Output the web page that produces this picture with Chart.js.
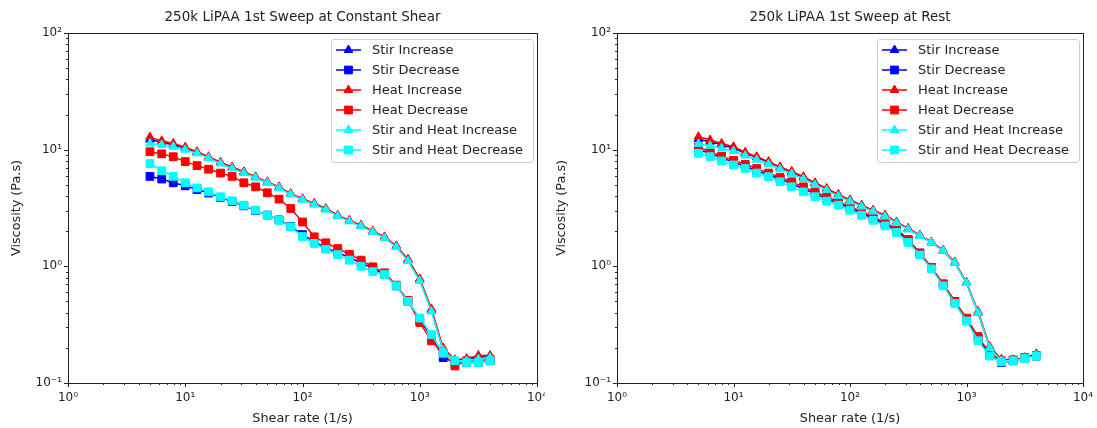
<!DOCTYPE html>
<html>
<head>
<meta charset="utf-8">
<script src="https://cdn.jsdelivr.net/npm/chart.js@4.4.0/dist/chart.umd.min.js"></script>
<style>
  body { margin: 0; background: #fff; width: 1097px; height: 428px; position: relative; overflow: hidden; }
  canvas { position: absolute; top: 0; background: #fff; }
  #graficoCisalhamento { left: 0; }
  #graficoRepouso { left: 545px; }
</style>
</head>
<body>
<canvas id="graficoCisalhamento" width="547" height="428"></canvas>
<canvas id="graficoRepouso" width="552" height="428"></canvas>
<script>
// taxa de cisalhamento (1/s), a mesma para todas as curvas
const taxa = [5.0, 6.3, 7.9, 10.0, 12.6, 15.8, 20.0, 25.1, 31.6, 39.8, 50.1, 63.1, 79.4, 100, 126, 158, 200, 251, 316, 398, 501, 631, 794, 1000, 1259, 1585, 1995, 2512, 3162, 3981];

const ticksX = [1, 10, 100, 1000, 10000];
const ticksY = [0.1, 1, 10, 100];

const legendas = ['Stir Increase', 'Stir Decrease', 'Heat Increase', 'Heat Decrease', 'Stir and Heat Increase', 'Stir and Heat Decrease'];

// Viscosidade (Pa.s) - varredura com cisalhamento constante
const cisStirInc = [12.2, 11.6, 11.0, 10.3, 9.5, 8.6, 7.7, 7.0, 6.4, 5.8, 5.25, 4.75, 4.17, 3.77, 3.43, 3.1, 2.72, 2.46, 2.23, 1.99, 1.77, 1.48, 1.13, 0.77, 0.42, 0.19, 0.155, 0.16, 0.165, 0.17];
const cisStirDec = [5.9, 5.6, 5.2, 4.9, 4.55, 4.25, 3.9, 3.6, 3.3, 3.0, 2.75, 2.5, 2.2, 1.87, 1.63, 1.44, 1.31, 1.19, 1.07, 0.96, 0.85, 0.68, 0.5, 0.35, 0.25, 0.165, 0.15, 0.15, 0.15, 0.155];
const cisHeatInc = [12.8, 11.9, 11.3, 10.5, 9.6, 8.7, 7.8, 7.1, 6.46, 5.86, 5.3, 4.8, 4.2, 3.8, 3.46, 3.13, 2.74, 2.48, 2.25, 2.01, 1.79, 1.5, 1.15, 0.78, 0.43, 0.2, 0.158, 0.162, 0.172, 0.172];
const cisHeatDec = [9.6, 9.2, 8.7, 7.9, 7.3, 6.8, 6.3, 5.9, 5.2, 4.8, 4.27, 3.77, 3.13, 2.4, 1.79, 1.59, 1.42, 1.27, 1.13, 0.99, 0.88, 0.69, 0.51, 0.33, 0.23, 0.18, 0.14, 0.155, 0.155, 0.16];
const cisAmbosInc = [11.3, 11.0, 10.6, 10.0, 9.3, 8.5, 7.6, 6.9, 6.3, 5.75, 5.2, 4.7, 4.12, 3.72, 3.38, 3.06, 2.69, 2.43, 2.2, 1.97, 1.75, 1.46, 1.11, 0.75, 0.41, 0.19, 0.155, 0.155, 0.16, 0.165];
const cisAmbosDec = [7.6, 6.6, 5.9, 5.2, 4.7, 4.35, 3.95, 3.65, 3.34, 3.03, 2.74, 2.48, 2.18, 1.8, 1.57, 1.4, 1.26, 1.13, 1.0, 0.9, 0.85, 0.68, 0.5, 0.36, 0.26, 0.18, 0.155, 0.15, 0.15, 0.155];

// Viscosidade (Pa.s) - varredura em repouso
const repStirInc = [12.3, 11.7, 11.0, 10.3, 9.3, 8.6, 7.8, 7.05, 6.4, 5.8, 5.15, 4.6, 4.1, 3.68, 3.32, 3.0, 2.72, 2.38, 2.1, 1.84, 1.6, 1.36, 1.07, 0.72, 0.4, 0.2, 0.157, 0.157, 0.163, 0.175];
const repStirDec = [10.0, 9.3, 8.5, 7.8, 7.2, 6.6, 6.1, 5.6, 5.1, 4.6, 4.2, 3.8, 3.47, 3.15, 2.85, 2.57, 2.3, 2.03, 1.66, 1.3, 0.97, 0.7, 0.5, 0.35, 0.24, 0.175, 0.15, 0.155, 0.163, 0.17];
const repHeatInc = [12.9, 12.1, 11.3, 10.6, 9.5, 8.7, 7.9, 7.1, 6.5, 5.86, 5.2, 4.65, 4.13, 3.7, 3.34, 3.03, 2.74, 2.4, 2.11, 1.85, 1.62, 1.38, 1.09, 0.73, 0.41, 0.205, 0.16, 0.158, 0.165, 0.178];
const repHeatDec = [10.5, 9.6, 8.8, 8.1, 7.5, 6.9, 6.3, 5.8, 5.3, 4.8, 4.35, 3.95, 3.6, 3.25, 2.95, 2.65, 2.38, 2.1, 1.7, 1.3, 0.98, 0.71, 0.5, 0.36, 0.25, 0.18, 0.155, 0.158, 0.165, 0.172];
const repAmbosInc = [11.2, 10.8, 10.3, 9.7, 8.9, 8.2, 7.5, 6.8, 6.2, 5.6, 5.0, 4.5, 4.0, 3.6, 3.25, 2.95, 2.67, 2.35, 2.07, 1.82, 1.6, 1.36, 1.07, 0.72, 0.4, 0.2, 0.155, 0.155, 0.162, 0.172];
const repAmbosDec = [9.3, 8.7, 8.0, 7.4, 6.9, 6.3, 5.86, 5.3, 4.8, 4.35, 3.95, 3.62, 3.34, 3.03, 2.74, 2.48, 2.22, 1.95, 1.6, 1.25, 0.95, 0.68, 0.48, 0.34, 0.23, 0.17, 0.152, 0.155, 0.162, 0.17];

const fonte = 'DejaVu Sans';
const corTexto = '#222';
const azul = 'rgb(0, 0, 255)';
const vermelho = 'rgb(255, 0, 0)';
const ciano = 'rgb(0, 255, 255)';

const sobrescrito = { '-': '⁻', '0': '⁰', '1': '¹', '2': '²', '3': '³', '4': '⁴' };

function rotuloPotencia(valor) {
  const expoente = Math.round(Math.log10(valor));
  return '10' + String(expoente).split('').map(c => sobrescrito[c]).join('');
}

function montaSerie(legenda, valores, cor, marcador, ordem) {
  return {
    label: legenda,
    data: taxa.map((x, i) => ({ x: x, y: valores[i] })),
    borderColor: cor,
    backgroundColor: cor,
    pointBackgroundColor: cor,
    pointBorderColor: cor,
    pointStyle: marcador,
    pointRadius: marcador === 'rect' ? 5.5 : 5,
    pointBorderWidth: 1,
    borderWidth: 1.5,
    tension: 0,
    fill: false,
    order: ordem
  };
}

// posicoes das marcas (maiores e menores) de um eixo log
function marcasLog(escala) {
  const marcas = [];
  const e0 = Math.round(Math.log10(escala.min));
  const e1 = Math.round(Math.log10(escala.max));
  for (let e = e0; e < e1; e++) {
    for (let m = 1; m < 10; m++) marcas.push([m * Math.pow(10, e), m === 1]);
  }
  marcas.push([Math.pow(10, e1), true]);
  return marcas;
}

// moldura e marcas para fora, estilo matplotlib
const eixosPlugin = {
  id: 'eixosMpl',
  afterDatasetsDraw(chart) {
    const { ctx, chartArea: area, scales } = chart;
    ctx.save();
    ctx.strokeStyle = corTexto;
    ctx.lineWidth = 1;
    ctx.beginPath();
    marcasLog(scales.x).forEach(([valor, maior]) => {
      const px = Math.round(scales.x.getPixelForValue(valor)) + 0.5;
      ctx.moveTo(px, area.bottom);
      ctx.lineTo(px, area.bottom + (maior ? 4 : 2));
    });
    marcasLog(scales.y).forEach(([valor, maior]) => {
      const py = Math.round(scales.y.getPixelForValue(valor)) + 0.5;
      ctx.moveTo(area.left, py);
      ctx.lineTo(area.left - (maior ? 4 : 2), py);
    });
    ctx.stroke();
    ctx.strokeRect(Math.round(area.left) + 0.5, Math.round(area.top) + 0.5, Math.round(area.width), Math.round(area.height));
    ctx.restore();
  }
};

function desenhaMarcador(ctx, estilo, x, y, r) {
  ctx.beginPath();
  if (estilo === 'triangle') {
    let ang = 0;
    ctx.moveTo(x + Math.sin(ang) * r, y - Math.cos(ang) * r);
    ang += Math.PI * 2 / 3;
    ctx.lineTo(x + Math.sin(ang) * r, y - Math.cos(ang) * r);
    ang += Math.PI * 2 / 3;
    ctx.lineTo(x + Math.sin(ang) * r, y - Math.cos(ang) * r);
    ctx.closePath();
  } else {
    const lado = Math.SQRT1_2 * r;
    ctx.rect(x - lado, y - lado, 2 * lado, 2 * lado);
  }
  ctx.fill();
  ctx.stroke();
}

// legenda dentro da area do grafico, canto superior direito
const legendaPlugin = {
  id: 'legendaMpl',
  afterDraw(chart) {
    const { ctx, chartArea: area } = chart;
    const largura = 202, altura = 123;
    const x0 = area.right - 4 - largura;
    const y0 = area.top + 6;
    ctx.save();
    ctx.fillStyle = 'rgba(255, 255, 255, 0.8)';
    ctx.strokeStyle = '#cccccc';
    ctx.lineWidth = 1;
    ctx.beginPath();
    ctx.roundRect(Math.round(x0) + 0.5, Math.round(y0) + 0.5, largura, altura, 3);
    ctx.fill();
    ctx.stroke();
    chart.data.datasets.forEach((serie, i) => {
      const y = y0 + 11 + 20 * i;
      ctx.strokeStyle = serie.borderColor;
      ctx.fillStyle = serie.borderColor;
      ctx.lineWidth = 1.5;
      ctx.beginPath();
      ctx.moveTo(x0 + 5, y);
      ctx.lineTo(x0 + 30, y);
      ctx.stroke();
      ctx.lineWidth = 1;
      desenhaMarcador(ctx, serie.pointStyle, x0 + 17.5, y, serie.pointRadius);
      ctx.fillStyle = corTexto;
      ctx.font = '13px "' + fonte + '"';
      ctx.textBaseline = 'middle';
      ctx.fillText(serie.label, x0 + 41, y + 1);
    });
    ctx.restore();
  }
};

function montaGrafico(canvas, titulo, series, larguraY, tituloYPad, direita) {
  return new Chart(canvas, {
    type: 'line',
    data: {
      datasets: [
        montaSerie(legendas[0], series[0], azul, 'triangle', 6),
        montaSerie(legendas[1], series[1], azul, 'rect', 5),
        montaSerie(legendas[2], series[2], vermelho, 'triangle', 4),
        montaSerie(legendas[3], series[3], vermelho, 'rect', 3),
        montaSerie(legendas[4], series[4], ciano, 'triangle', 2),
        montaSerie(legendas[5], series[5], ciano, 'rect', 1)
      ]
    },
    options: {
      responsive: false,
      animation: false,
      devicePixelRatio: 1,
      layout: { padding: { top: 0, left: 0, bottom: 0, right: direita } },
      plugins: {
        legend: { display: false },
        tooltip: { enabled: false },
        title: {
          display: true,
          text: titulo,
          fullSize: false,
          color: corTexto,
          font: { family: fonte, size: 13.5, weight: 'normal' },
          padding: { top: 9, bottom: 7.8 }
        }
      },
      scales: {
        x: {
          type: 'logarithmic',
          min: 1,
          max: 10000,
          afterBuildTicks: escala => { escala.ticks = ticksX.map(v => ({ value: v })); },
          afterFit: escala => {
            escala.height = 45;
            escala.paddingLeft = 0;
            escala.paddingRight = 0;
          },
          grid: { display: false, drawTicks: false },
          border: { display: false },
          ticks: {
            autoSkip: false,
            maxRotation: 0,
            padding: 8,
            color: corTexto,
            font: { family: fonte, size: 12 },
            callback: v => rotuloPotencia(v)
          },
          title: {
            display: true,
            text: 'Shear rate (1/s)',
            color: corTexto,
            font: { family: fonte, size: 12.8 },
            padding: { top: 0, bottom: 2 }
          }
        },
        y: {
          type: 'logarithmic',
          min: 0.1,
          max: 100,
          afterBuildTicks: escala => { escala.ticks = ticksY.map(v => ({ value: v })); },
          afterFit: escala => {
            escala.width = larguraY;
            escala.paddingTop = 0;
            escala.paddingBottom = 0;
          },
          grid: { display: false, drawTicks: false },
          border: { display: false },
          ticks: {
            autoSkip: false,
            padding: 6,
            color: corTexto,
            font: { family: fonte, size: 12 },
            callback: v => rotuloPotencia(v)
          },
          title: {
            display: true,
            text: 'Viscosity (Pa.s)',
            color: corTexto,
            font: { family: fonte, size: 12.8 },
            padding: { top: tituloYPad, bottom: 0 }
          }
        }
      }
    },
    plugins: [eixosPlugin, legendaPlugin]
  });
}

const graficoCisalhamento = montaGrafico(
  document.getElementById('graficoCisalhamento'),
  '250k LiPAA 1st Sweep at Constant Shear',
  [cisStirInc, cisStirDec, cisHeatInc, cisHeatDec, cisAmbosInc, cisAmbosDec],
  68, 8.6, 10
);

const graficoRepouso = montaGrafico(
  document.getElementById('graficoRepouso'),
  '250k LiPAA 1st Sweep at Rest',
  [repStirInc, repStirDec, repHeatInc, repHeatDec, repAmbosInc, repAmbosDec],
  72, 9.3, 14
);
</script>
</body>
</html>
